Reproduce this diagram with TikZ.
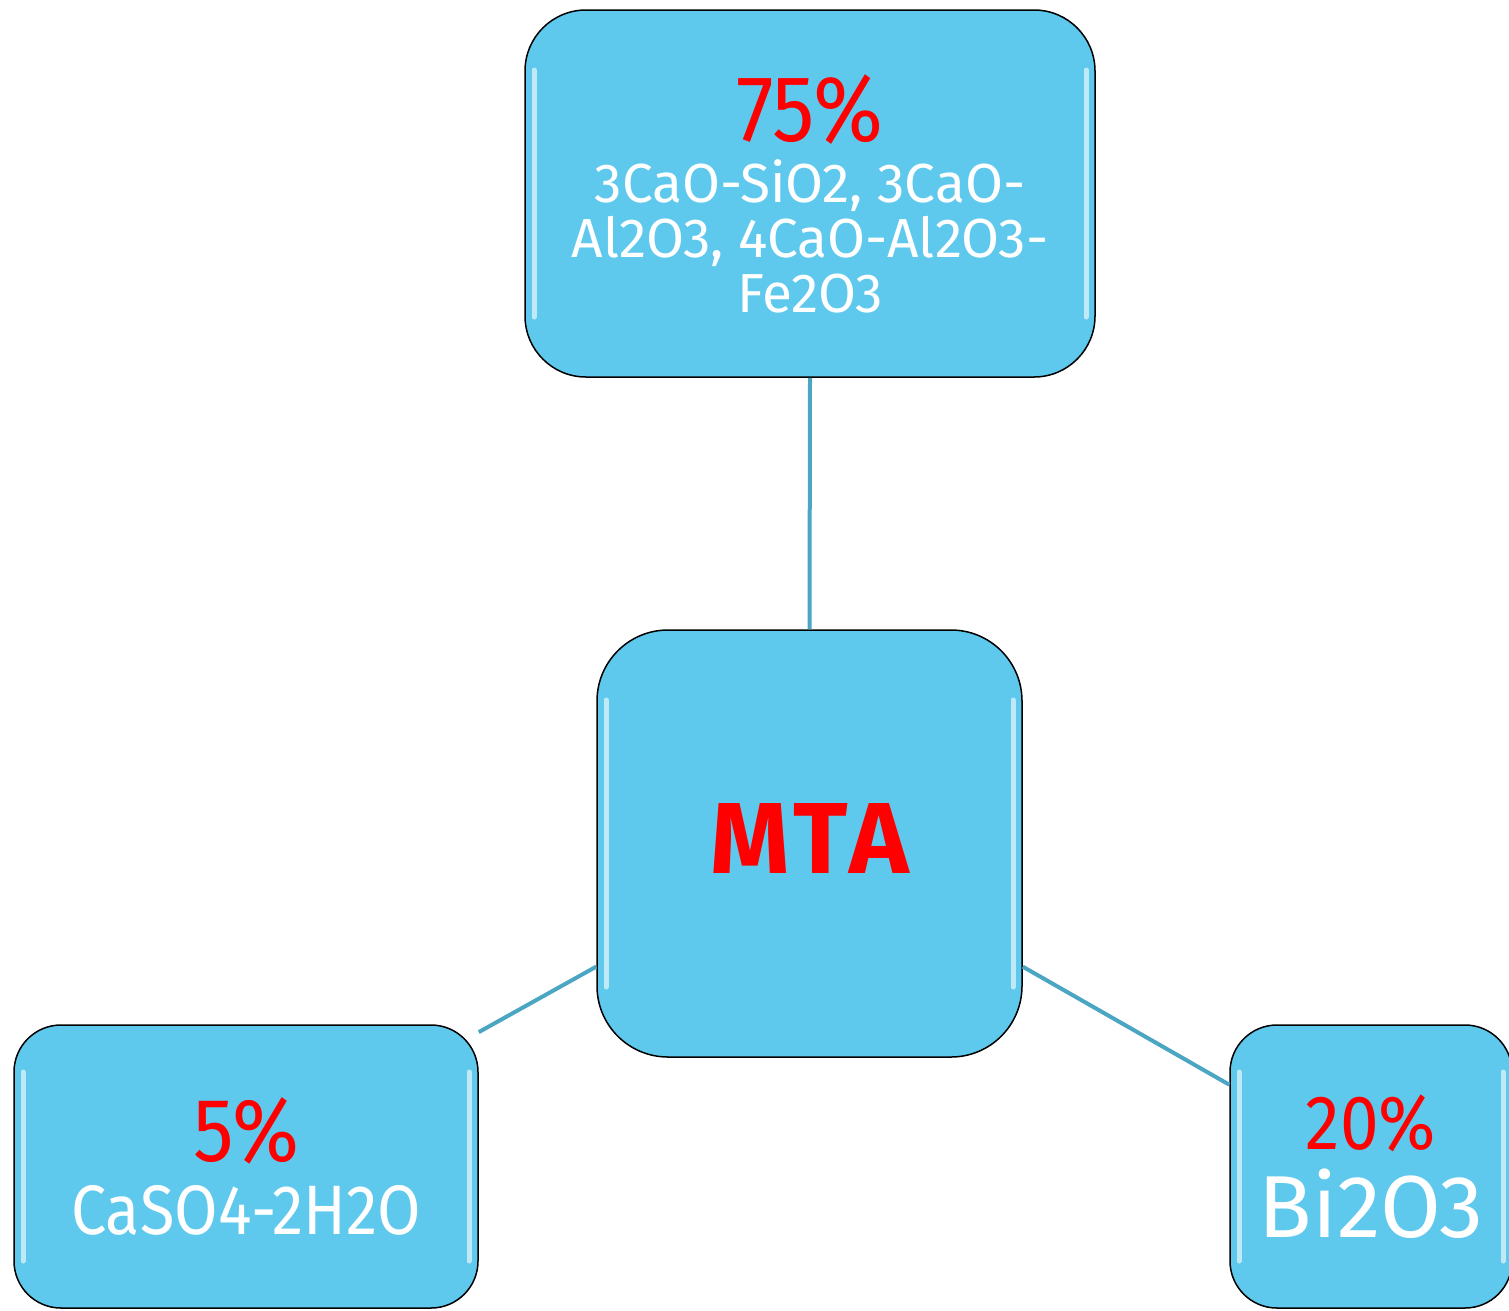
\documentclass[tikz,border=0pt]{standalone}
\usepackage{fontspec}
\newfontfamily\boxfont{Fira Sans}[FakeStretch=0.9]
\newfontfamily\widefont{Fira Sans}
\newfontfamily\titlefont{Fira Sans}[LetterSpace=6]
\definecolor{boxfill}{HTML}{5FC9ED}
\definecolor{linkline}{HTML}{4BA6C4}
\begin{document}
\begin{tikzpicture}[x=1pt, y=-1pt,
    part/.style={rectangle, draw=black, line width=1.5pt, fill=boxfill, text=white, align=center, inner sep=0pt},
    gloss/.style={path picture={
        \draw[white, opacity=0.6, line width=5pt, line cap=round]
            ([xshift=9pt, yshift=-#1]path picture bounding box.north west) --
            ([xshift=9pt, yshift=#1]path picture bounding box.south west);
        \draw[white, opacity=0.6, line width=5pt, line cap=round]
            ([xshift=-9pt, yshift=-#1]path picture bounding box.north east) --
            ([xshift=-9pt, yshift=#1]path picture bounding box.south east);
    }},
    link/.style={draw=linkline, line width=4pt}
]
    \useasboundingbox (0,0) rectangle (1509,1310);

    % Components
    \node[part, minimum width=570pt, minimum height=367pt, rounded corners=61pt, gloss=60pt,
          font=\widefont\fontsize{55}{55}\selectfont] (cement) at (810,193.5)
        {{\boxfont\color{red}\fontsize{94}{94}\selectfont 75\%}\\[6pt]
         3CaO-SiO2, 3CaO-\\Al2O3, 4CaO-Al2O3-\\Fe2O3};
    \node[part, minimum width=425pt, minimum height=427pt, rounded corners=71pt, gloss=70pt,
          text=red, font=\titlefont\bfseries\fontsize{101}{101}\selectfont] (mta) at (809.5,843.5)
        {\raisebox{5pt}[\height][\depth]{MTA}};
    \node[part, minimum width=464pt, minimum height=283pt, rounded corners=47pt, gloss=47pt,
          font=\boxfont\fontsize{70}{73}\selectfont] (gypsum) at (246,1166.5)
        {{\color{red}\fontsize{90}{90}\selectfont 5\%}\\CaSO4-2H2O};
    \node[part, minimum width=282pt, minimum height=283pt, rounded corners=47pt, gloss=47pt,
          font=\widefont\fontsize{88}{88}\selectfont] (bismuth) at (1371,1166.5)
        {{\boxfont\color{red}\fontsize{77}{77}\selectfont 20\%}\\Bi2O3};

    % Links
    \draw[link] (cement.south) -- (mta.north);
    \draw[link] (mta.-150) -- (gypsum.30);
    \draw[link] (mta.-30) -- (bismuth.150);
\end{tikzpicture}
\end{document}
